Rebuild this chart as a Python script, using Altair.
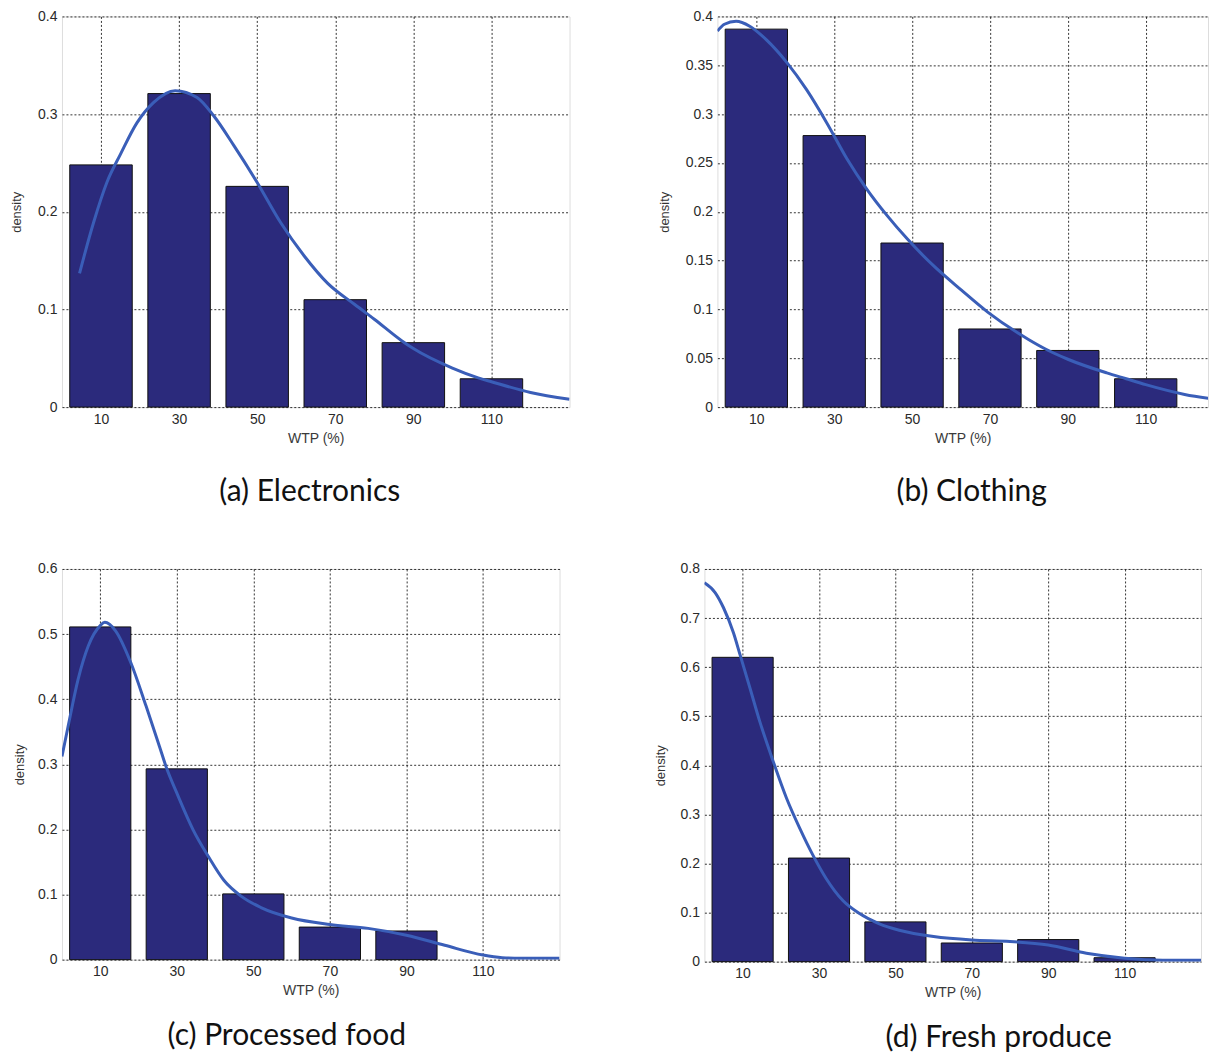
import altair as alt
import pandas as pd

# ---------------- data ----------------
wtp = [10, 30, 50, 70, 90, 110]

bars_a = [0.248, 0.321, 0.226, 0.110, 0.066, 0.029]
bars_b = [0.387, 0.278, 0.168, 0.080, 0.058, 0.029]
bars_c = [0.511, 0.293, 0.101, 0.050, 0.044, 0.0]
bars_d = [0.620, 0.211, 0.081, 0.038, 0.045, 0.008]

curve_a_x = [4.5, 8.1, 11.5, 15, 19.2, 23.5, 29, 34.6, 38.9, 44, 50, 56, 62, 68, 75,
             80, 87, 90, 100, 106.6, 110, 120, 130]
curve_a_y = [0.137, 0.189, 0.230, 0.259, 0.291, 0.312, 0.324, 0.317, 0.298, 0.268, 0.230,
             0.189, 0.155, 0.127, 0.105, 0.090, 0.068, 0.060, 0.040, 0.030, 0.026, 0.015, 0.008]

curve_b_x = [0, 1.8, 4.8, 8.3, 12.6, 17.8, 22.9, 28.1, 33.3, 38.4, 43.6, 48.8, 55.7, 62.6,
             69.5, 80, 84, 90, 100, 105, 110, 120, 130]
curve_b_y = [0.385, 0.392, 0.395, 0.390, 0.376, 0.353, 0.325, 0.291, 0.254, 0.223, 0.196,
             0.172, 0.144, 0.120, 0.097, 0.069, 0.060, 0.049, 0.035, 0.029, 0.023,
             0.013, 0.007]

curve_c_x = [0, 1.6, 4.2, 6.9, 10, 11.2, 14, 18, 22, 25.5, 27.4, 30, 34.3, 38.3, 42.3,
             46.7, 52, 60, 70, 80, 90, 100, 110, 115, 120, 130]
curve_c_y = [0.312, 0.358, 0.430, 0.482, 0.513, 0.518, 0.505, 0.456, 0.389, 0.327, 0.293,
             0.256, 0.199, 0.158, 0.122, 0.098, 0.080, 0.064, 0.054, 0.048, 0.0375, 0.022,
             0.007, 0.003, 0.002, 0.002]

curve_d_x = [0, 2.8, 5, 7.6, 9.3, 11.9, 14.5, 18, 21.5, 25, 28.4, 31.9, 36.3, 40.6, 45.8,
             51, 60, 70, 80, 90, 100, 110, 120, 130]
curve_d_y = [0.772, 0.752, 0.721, 0.670, 0.626, 0.558, 0.489, 0.408, 0.333, 0.271, 0.217,
             0.169, 0.124, 0.098, 0.077, 0.064, 0.051, 0.044, 0.041, 0.034, 0.017, 0.007,
             0.003, 0.003]

captions = ["(a) Electronics", "(b) Clothing", "(c) Processed food", "(d) Fresh produce"]

BAR_FILL = "#2b2a7c"
CURVE = "#3a5eb8"
HALF = 8


def panel(bars, cx, cy, ymax, ystep, xmax, width, height, caption,
          title_pad_y, label_fmt, cap_dx, cap_offset):
    nsteps = int(round(ymax / ystep))
    yvals = [round(i * ystep, 3) for i in range(nsteps + 1)]
    xscale = alt.Scale(domain=[0, xmax], nice=False, zero=False)
    yscale = alt.Scale(domain=[0, ymax], nice=False)

    bar_df = pd.DataFrame({"wtp": wtp, "density": bars})
    bar_df = bar_df[bar_df["density"] > 0]
    curve_df = pd.DataFrame({"x": cx, "y": cy})

    xaxis = alt.Axis(values=wtp, title="WTP (%)", grid=True, gridDash=[2, 2],
                     gridColor="#111", gridOpacity=0.85, ticks=False, domain=False,
                     labelPadding=5, labelFont="Liberation Sans", labelFontSize=14,
                     labelColor="#2a2a2a", titleFont="Liberation Sans", titleFontSize=14,
                     titleFontWeight="normal", titleColor="#3a3a3a", titlePadding=5)
    yaxis = alt.Axis(values=yvals, title="density", format=label_fmt, grid=True,
                     gridDash=[2, 2], gridColor="#111", gridOpacity=0.85, ticks=False,
                     domain=False, labelPadding=5, labelFont="Liberation Sans",
                     labelFontSize=14, labelColor="#2a2a2a", titleFont="Liberation Sans",
                     titleFontSize=13, titleFontWeight="normal", titleColor="#333",
                     titlePadding=title_pad_y)

    bars_layer = alt.Chart(bar_df).transform_calculate(
        x0=f"datum.wtp - {HALF}", x1=f"datum.wtp + {HALF}"
    ).mark_rect(fill=BAR_FILL, stroke="#111", strokeWidth=1).encode(
        x=alt.X("x0:Q", scale=xscale, axis=xaxis),
        x2="x1:Q",
        y=alt.Y("density:Q", scale=yscale, axis=yaxis),
        y2=alt.datum(0),
    )
    line_layer = alt.Chart(curve_df).mark_line(
        color=CURVE, strokeWidth=3, interpolate="monotone", clip=True
    ).encode(
        x=alt.X("x:Q", scale=xscale),
        y=alt.Y("y:Q", scale=yscale),
    )
    return alt.layer(bars_layer, line_layer).properties(
        width=width, height=height,
        title=alt.TitleParams(caption, orient="bottom", anchor="middle",
                              font="Lato", fontSize=30, fontWeight="normal",
                              color="#111", offset=cap_offset, dx=cap_dx),
    )


pa = panel(bars_a, curve_a_x, curve_a_y, 0.4, 0.1, 130, 508, 391, captions[0],
           14, ".1~f", -6, 32)
pb = panel(bars_b, curve_b_x, curve_b_y, 0.4, 0.05, 126, 491, 391, captions[1],
           14, ".2~f", 9, 32)
pc = panel(bars_c, curve_c_x, curve_c_y, 0.6, 0.1, 130, 498, 391, captions[2],
           11, ".1~f", -24, 23)
pd_ = panel(bars_d, curve_d_x, curve_d_y, 0.8, 0.1, 130, 497, 393, captions[3],
            12, ".1~f", 46, 23)

row1 = alt.hconcat(pa, pb, spacing=87)
row2 = alt.hconcat(pc, pd_, spacing=94)

chart = alt.vconcat(row1, row2, spacing=53).properties(
    padding={"left": 2, "top": 0, "right": 0, "bottom": 0}
).configure_view(
    stroke="#333", strokeWidth=1
).configure(background="white")

chart.save("out.html", embed_options={"renderer": "svg", "actions": False})
